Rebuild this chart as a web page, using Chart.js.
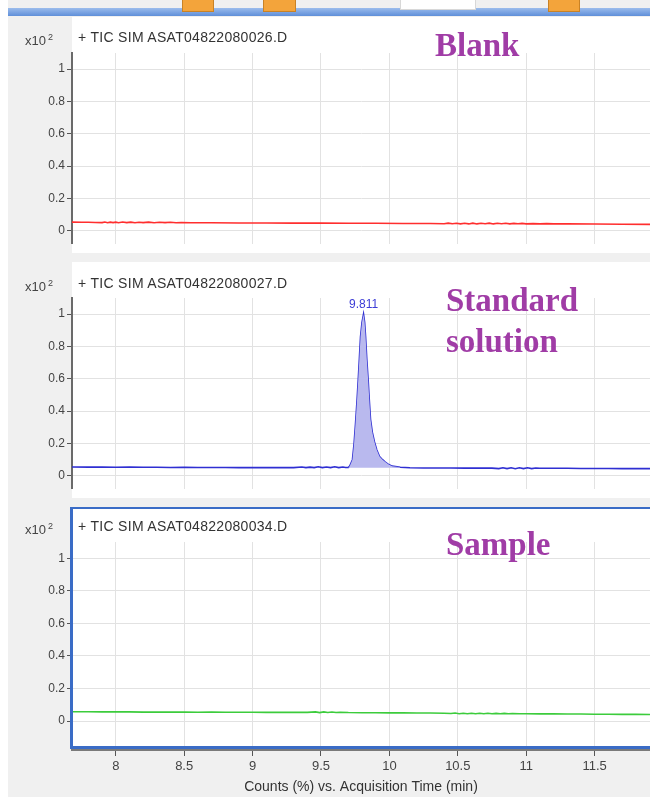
<!DOCTYPE html>
<html>
<head>
<meta charset="utf-8">
<script src="https://cdn.jsdelivr.net/npm/chart.js@4.4.1/dist/chart.umd.min.js"></script>
<style>
  body { margin: 0; width: 650px; height: 797px; background: #f0f0f0; position: relative; overflow: hidden; font-family: "Liberation Sans", Arial, sans-serif; }
  .strip { position: absolute; left: 0; top: 0; width: 8px; height: 797px; background: #fff; }
  .bar { position: absolute; left: 8px; top: 8px; width: 642px; height: 8px; background: linear-gradient(#9bbcec, #5f8fd9); }
  .tab { position: absolute; top: 0; height: 11px; background: #f3a43b; border: 1px solid #c98225; border-top: none; }
  .tab.white { background: #fff; border-color: #d8d8d8; height: 9px; }
  canvas { position: absolute; left: 0; }
  .txt { position: absolute; z-index: 2; white-space: nowrap; }
  .exp { left: 25px; font-size: 13px; line-height: 16px; color: #444; }
  .exp sup { font-size: 9px; vertical-align: 5px; margin-left: 2px; }
  .hdr { left: 78px; font-size: 14px; line-height: 16px; color: #333; letter-spacing: 0.3px; }
  .note { font-family: "Liberation Serif", serif; font-weight: bold; font-size: 33px; line-height: 41px; color: #a03ca6; }
</style>
</head>
<body>
<div class="strip"></div>
<div class="bar"></div>
<div class="tab" style="left:182px;width:30px"></div>
<div class="tab" style="left:263px;width:31px"></div>
<div class="tab white" style="left:400px;width:74px"></div>
<div class="tab" style="left:548px;width:30px"></div>

<canvas id="blank" width="650" height="236" style="top:17px"></canvas>
<canvas id="standard" width="650" height="236" style="top:262px"></canvas>
<canvas id="sample" width="650" height="290" style="top:507px"></canvas>

<div class="txt exp" style="top:29px">x10<sup>2</sup></div>
<div class="txt hdr" style="top:29px">+ TIC SIM ASAT04822080026.D</div>
<div class="txt note" style="left:435px;top:25px">Blank</div>

<div class="txt exp" style="top:275px">x10<sup>2</sup></div>
<div class="txt hdr" style="top:275px">+ TIC SIM ASAT04822080027.D</div>
<div class="txt note" style="left:446px;top:280px">Standard<br>solution</div>

<div class="txt exp" style="top:518px">x10<sup>2</sup></div>
<div class="txt hdr" style="top:518px">+ TIC SIM ASAT04822080034.D</div>
<div class="txt note" style="left:446px;top:524px">Sample</div>

<script>
// acquisition time axis (min) and counts axis (x10^2)
const xTicks = [8, 8.5, 9, 9.5, 10, 10.5, 11, 11.5];
const yTicks = [0, 0.2, 0.4, 0.6, 0.8, 1];
const xMin = 7.68, xMax = 11.905;

// blank run
const blankTimes = [7.68, 7.75, 7.8, 7.85, 7.9, 7.92, 7.94, 7.96, 7.98, 8.0, 8.02, 8.05, 8.08, 8.11, 8.14, 8.17, 8.2, 8.24, 8.28, 8.32, 8.36, 8.4, 8.44, 8.48, 8.55, 8.7, 8.9, 9.1, 9.3, 9.5, 9.7, 9.9, 10.1, 10.3, 10.4, 10.43, 10.46, 10.49, 10.52, 10.55, 10.58, 10.61, 10.64, 10.67, 10.7, 10.73, 10.76, 10.79, 10.82, 10.85, 10.88, 10.91, 10.94, 10.97, 11.0, 11.05, 11.1, 11.15, 11.2, 11.3, 11.5, 11.7, 11.905];
const blankCounts = [0.054, 0.053, 0.053, 0.052, 0.051, 0.055, 0.05, 0.054, 0.051, 0.054, 0.05, 0.055, 0.051, 0.054, 0.05, 0.053, 0.051, 0.054, 0.05, 0.053, 0.051, 0.053, 0.05, 0.052, 0.05, 0.05, 0.049, 0.049, 0.048, 0.048, 0.047, 0.047, 0.046, 0.046, 0.044, 0.048, 0.044, 0.047, 0.043, 0.047, 0.043, 0.048, 0.043, 0.047, 0.044, 0.048, 0.043, 0.047, 0.044, 0.047, 0.043, 0.046, 0.044, 0.046, 0.043, 0.045, 0.043, 0.045, 0.043, 0.043, 0.042, 0.041, 0.04];

// standard solution: baseline either side of the peak
const stdTimes = [7.68, 7.8, 7.9, 8.0, 8.1, 8.2, 8.3, 8.4, 8.5, 8.6, 8.7, 8.8, 8.9, 9.0, 9.1, 9.2, 9.3, 9.36, 9.39, 9.42, 9.45, 9.48, 9.51, 9.54, 9.57, 9.6, 9.63, 9.66, 9.68, 10.15, 10.25, 10.35, 10.45, 10.55, 10.65, 10.75, 10.8, 10.83, 10.86, 10.89, 10.92, 10.95, 10.98, 11.01, 11.04, 11.07, 11.1, 11.2, 11.3, 11.4, 11.5, 11.6, 11.7, 11.8, 11.905];
const stdCounts = [0.055, 0.054, 0.054, 0.053, 0.054, 0.053, 0.053, 0.052, 0.053, 0.052, 0.052, 0.052, 0.051, 0.052, 0.051, 0.051, 0.051, 0.055, 0.051, 0.054, 0.051, 0.056, 0.051, 0.055, 0.051, 0.056, 0.051, 0.055, 0.052, 0.05, 0.049, 0.049, 0.049, 0.048, 0.048, 0.048, 0.045, 0.05, 0.045, 0.05, 0.044, 0.05, 0.045, 0.05, 0.045, 0.049, 0.047, 0.047, 0.047, 0.046, 0.046, 0.046, 0.045, 0.045, 0.045];

// standard solution: peak
const peakTimes = [9.7, 9.71, 9.73, 9.742, 9.753, 9.763, 9.772, 9.781, 9.789, 9.8, 9.811, 9.819, 9.826, 9.835, 9.845, 9.853, 9.862, 9.875, 9.891, 9.908, 9.928, 9.95, 9.97, 9.995, 10.02, 10.08];
const peakCounts = [0.052, 0.06, 0.1, 0.2, 0.33, 0.46, 0.59, 0.73, 0.86, 0.95, 1.0, 0.95, 0.86, 0.72, 0.59, 0.47, 0.35, 0.27, 0.21, 0.16, 0.12, 0.1, 0.085, 0.07, 0.06, 0.053];
const peakBase = 0.05;

// sample
const sampleTimes = [7.68, 7.8, 7.9, 8.0, 8.1, 8.2, 8.3, 8.4, 8.5, 8.6, 8.7, 8.8, 8.9, 9.0, 9.1, 9.2, 9.3, 9.4, 9.46, 9.49, 9.52, 9.55, 9.58, 9.61, 9.64, 9.7, 9.8, 9.9, 10.0, 10.1, 10.2, 10.3, 10.4, 10.45, 10.48, 10.51, 10.54, 10.57, 10.6, 10.63, 10.66, 10.69, 10.72, 10.75, 10.78, 10.81, 10.84, 10.87, 10.9, 10.95, 11.0, 11.1, 11.2, 11.3, 11.4, 11.5, 11.6, 11.7, 11.8, 11.905];
const sampleCounts = [0.057, 0.057, 0.056, 0.056, 0.056, 0.055, 0.055, 0.055, 0.055, 0.054, 0.055, 0.054, 0.054, 0.054, 0.053, 0.053, 0.053, 0.053, 0.056, 0.052, 0.056, 0.052, 0.055, 0.052, 0.054, 0.052, 0.051, 0.051, 0.05, 0.05, 0.049, 0.049, 0.048, 0.046, 0.049, 0.045, 0.048, 0.045, 0.048, 0.045, 0.048, 0.045, 0.048, 0.045, 0.047, 0.045, 0.047, 0.045, 0.046, 0.045, 0.045, 0.044, 0.044, 0.043, 0.043, 0.042, 0.042, 0.041, 0.041, 0.04];

const FONT = 'Liberation Sans';
const GRID = '#e2e2e2';

const pts = (xs, ys) => xs.map((x, i) => ({ x: x, y: ys[i] }));

const trace = function (data, color) {
  return { data: data, borderColor: color, borderWidth: 1.6, pointRadius: 0, fill: false, tension: 0 };
};

// white plot background, blue selection frame and peak label
const panelDeco = {
  id: 'panelDeco',
  beforeDraw(chart, args, opts) {
    const { ctx, chartArea } = chart;
    ctx.save();
    ctx.fillStyle = '#fff';
    let bottom = opts.framed ? chartArea.bottom : chart.height;
    ctx.fillRect(chartArea.left, 0, chart.width - chartArea.left, bottom);
    ctx.restore();
  },
  afterDatasetsDraw(chart, args, opts) {
    if (!opts.peak) return;
    const { ctx, scales } = chart;
    let i = peakCounts.indexOf(Math.max(...peakCounts));
    let px = scales.x.getPixelForValue(peakTimes[i]);
    let py = scales.y.getPixelForValue(peakCounts[i]);
    ctx.save();
    ctx.fillStyle = '#3c3cd6';
    ctx.font = '12px ' + FONT;
    ctx.textAlign = 'center';
    ctx.textBaseline = 'bottom';
    ctx.fillText(peakTimes[i].toFixed(3), px, py - 3);
    ctx.restore();
  },
  afterDraw(chart, args, opts) {
    if (!opts.framed) return;
    const { ctx, chartArea } = chart;
    ctx.save();
    ctx.fillStyle = '#3a6cc6';
    ctx.fillRect(chartArea.left - 2, 0, chart.width, 2);
    ctx.fillRect(chartArea.left - 2, 0, 3, chartArea.bottom - 1);
    ctx.fillRect(chartArea.left - 2, chartArea.bottom - 4, chart.width, 3);
    ctx.restore();
  },
};

const makePanel = function (id, datasets, cfg) {
  const last = !!cfg.framed;
  return new Chart(document.getElementById(id).getContext('2d'), {
    type: 'line',
    data: { datasets: datasets },
    plugins: [panelDeco],
    options: {
      responsive: false,
      animation: false,
      devicePixelRatio: 1,
      layout: { padding: { top: cfg.top, bottom: cfg.bottom, left: 0, right: 0 } },
      plugins: {
        legend: { display: false },
        tooltip: { enabled: false },
        panelDeco: { framed: last, peak: !!cfg.peak },
      },
      scales: {
        x: {
          type: 'linear',
          min: xMin,
          max: xMax,
          afterBuildTicks: (s) => { s.ticks = xTicks.map((v) => ({ value: v })); },
          afterFit: (s) => { s.height = last ? 47 : 0; },
          ticks: { display: last, color: '#444', font: { family: FONT, size: 13 }, padding: 3, maxRotation: 0, callback: (v) => String(v) },
          grid: { color: GRID, tickColor: '#555', tickLength: 6, drawTicks: last },
          border: { display: last, color: '#7a7a7a', width: 2 },
          title: { display: last, text: 'Counts (%) vs. Acquisition Time (min)', color: '#333', font: { family: FONT, size: 14 }, padding: { top: 0, bottom: 1 } },
        },
        y: {
          min: cfg.yMin,
          max: 1.1,
          afterBuildTicks: (s) => { s.ticks = yTicks.map((v) => ({ value: v })); },
          afterFit: (s) => { s.width = 72; },
          ticks: { color: '#444', font: { family: FONT, size: 12 }, padding: 2, callback: (v) => String(v) },
          grid: { color: GRID, tickColor: '#555', tickLength: 5 },
          border: { display: !last, color: '#6a6a6a', width: 2 },
        },
      },
    },
  });
};

makePanel('blank', [trace(pts(blankTimes, blankCounts), '#ff2e2e')], { top: 36, bottom: 8, yMin: -0.08 });

let stdLine = pts(stdTimes, stdCounts).concat(pts(peakTimes, peakCounts)).sort((a, b) => a.x - b.x);
makePanel('standard', [
  { data: pts(peakTimes, peakCounts), borderWidth: 0, pointRadius: 0, backgroundColor: '#b9b9ee', fill: { value: peakBase } },
  trace(stdLine, '#2f2fd2'),
], { top: 36, bottom: 8, yMin: -0.08, peak: true });

makePanel('sample', [trace(pts(sampleTimes, sampleCounts), '#3ccc3c')], { top: 35, bottom: 0, yMin: -0.178, framed: true });
</script>
</body>
</html>
